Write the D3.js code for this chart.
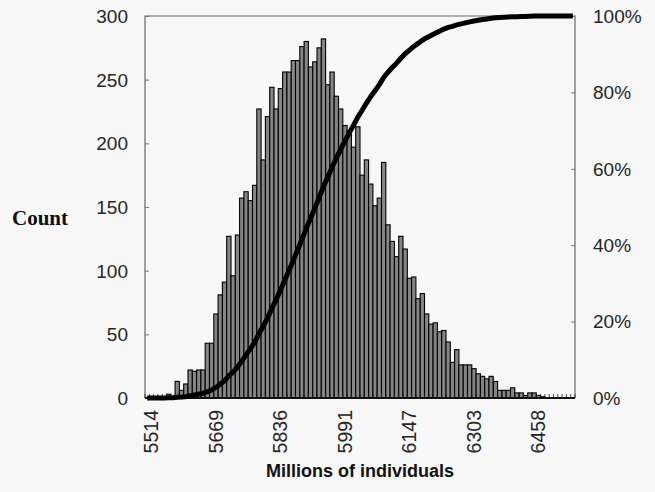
<!DOCTYPE html>
<html>
<head>
<meta charset="utf-8">
<script src="https://cdn.jsdelivr.net/npm/d3@7"></script>
<style>
  html, body { margin: 0; padding: 0; background: #f7f7f7; }
  svg { display: block; }
</style>
</head>
<body>
<svg id="chart" width="655" height="492"></svg>
<script>
// ---- Data ----
const counts = [
  0, 0, 0, 0, 1, 3, 1, 13, 6, 11,
  22, 21, 22, 22, 43, 43, 66, 81, 91, 127,
  96, 128, 157, 162, 155, 167, 227, 187, 221, 244,
  227, 243, 256, 256, 265, 265, 276, 280, 260, 264,
  275, 282, 246, 256, 237, 227, 214, 210, 197, 213,
  175, 187, 168, 151, 157, 185, 136, 123, 111, 127,
  117, 94, 95, 78, 82, 66, 58, 59, 52, 53,
  44, 28, 38, 26, 26, 26, 23, 19, 17, 15,
  17, 13, 6, 6, 6, 8, 4, 4, 2, 4,
  4, 2, 1, 0, 0, 0, 0, 0, 0, 0
];
const tickLabels = ["5514", "5669", "5836", "5991", "6147", "6303", "6458"];
const tickBins = [1, 16, 31, 46, 61, 76, 91];
const countTicks = [0, 50, 100, 150, 200, 250, 300];
const pctTicks = [0, 0.2, 0.4, 0.6, 0.8, 1.0];
const xTitle = "Millions of individuals";
const yTitle = "Count";

// cumulative share of the histogram counts
const total = d3.sum(counts);
const cumulative = Array.from(d3.cumsum(counts), v => v / total);

// ---- Layout ----
const L = 145, R = 575, T = 16, B = 398;
const svg = d3.select("#chart");

const x = d3.scaleBand().domain(d3.range(counts.length)).range([L, R]).padding(0);
const y = d3.scaleLinear().domain([0, 300]).range([B, T]);
const yR = d3.scaleLinear().domain([0, 1]).range([B, T]);

// bars
svg.append("g").selectAll("rect")
  .data(counts.map((c, i) => ({c, i})).filter(d => d.c > 0))
  .join("rect")
  .attr("x", d => x(d.i))
  .attr("y", d => y(d.c))
  .attr("width", x.bandwidth())
  .attr("height", d => y(0) - y(d.c))
  .attr("fill", "#858585")
  .attr("stroke", "#000")
  .attr("stroke-width", 1.1);

// plot frame (left, top, right)
svg.append("path")
  .attr("d", `M${L},${B}V${T}H${R}V${B}`)
  .attr("fill", "none")
  .attr("stroke", "#666")
  .attr("stroke-width", 1.2);

// left axis
const leftAxis = d3.axisRight(y).tickValues(countTicks).tickSize(4).tickFormat("");
const gl = svg.append("g").attr("transform", `translate(${L},0)`).call(leftAxis);
gl.select(".domain").remove();
gl.selectAll("line").attr("stroke", "#777");
svg.append("g").selectAll("text").data(countTicks).join("text")
  .attr("x", 128).attr("y", d => y(d)).attr("dy", "0.36em")
  .attr("text-anchor", "end")
  .attr("font-family", "Liberation Sans, Arial, sans-serif")
  .attr("font-size", 19).attr("fill", "#262626")
  .text(d => d);

// right axis
const rightAxis = d3.axisLeft(yR).tickValues(pctTicks).tickSize(4).tickFormat("");
const gr = svg.append("g").attr("transform", `translate(${R},0)`).call(rightAxis);
gr.select(".domain").remove();
gr.selectAll("line").attr("stroke", "#777");
svg.append("g").selectAll("text").data(pctTicks).join("text")
  .attr("x", 593).attr("y", d => yR(d)).attr("dy", "0.36em")
  .attr("text-anchor", "start")
  .attr("font-family", "Liberation Sans, Arial, sans-serif")
  .attr("font-size", 19).attr("fill", "#262626")
  .text(d => d3.format(".0%")(d));

// bottom axis: category boundary ticks pointing up
const boundaries = d3.range(counts.length + 1).map(i => L + i * x.bandwidth());
svg.append("g").selectAll("line").data(boundaries).join("line")
  .attr("x1", d => d).attr("x2", d => d)
  .attr("y1", B).attr("y2", B - 4)
  .attr("stroke", "#222").attr("stroke-width", 0.8);
svg.append("line")
  .attr("x1", L).attr("x2", R).attr("y1", B).attr("y2", B)
  .attr("stroke", "#111").attr("stroke-width", 2);

// x tick labels (rotated)
svg.append("g").selectAll("text").data(tickLabels).join("text")
  .attr("transform", (d, k) => `translate(${x(tickBins[k]) + x.bandwidth() / 2},410) rotate(-90)`)
  .attr("dy", "0.36em")
  .attr("text-anchor", "end")
  .attr("font-family", "Liberation Sans, Arial, sans-serif")
  .attr("font-size", 19.5).attr("fill", "#262626")
  .text(d => d);

// cumulative line
const line = d3.line()
  .x((d, i) => x(i) + x.bandwidth() / 2)
  .y(d => yR(d))
  .curve(d3.curveLinear);
svg.append("path")
  .datum(cumulative)
  .attr("d", line)
  .attr("fill", "none")
  .attr("stroke", "#000")
  .attr("stroke-width", 5)
  .attr("stroke-linejoin", "round");

// titles
svg.append("text")
  .attr("x", 12).attr("y", 217).attr("dy", "0.36em")
  .attr("font-family", "Liberation Serif, Times New Roman, serif")
  .attr("font-weight", "bold").attr("font-size", 21).attr("fill", "#111")
  .text(yTitle);
svg.append("text")
  .attr("x", (L + R) / 2).attr("y", 477)
  .attr("text-anchor", "middle")
  .attr("font-family", "Liberation Sans, Arial, sans-serif")
  .attr("font-weight", "bold").attr("font-size", 18).attr("fill", "#111")
  .text(xTitle);
</script>
</body>
</html>
